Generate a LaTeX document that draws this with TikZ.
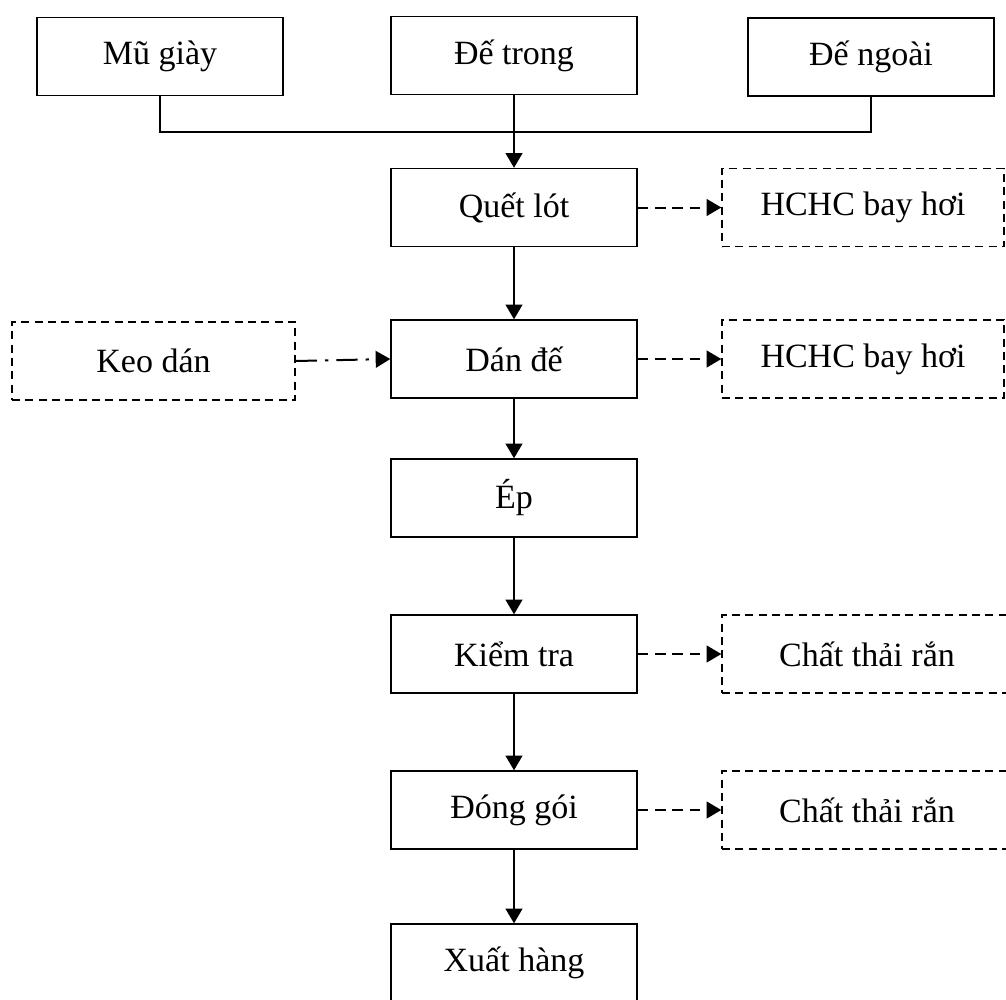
\documentclass[tikz,border=0pt]{standalone}
\usepackage{fontspec}
\setmainfont{Liberation Serif}
\usetikzlibrary{arrows.meta}
\tikzset{
  box/.style={draw, line width=1pt, inner sep=0pt, minimum width=184.5pt, minimum height=58.5pt,
    font=\fontsize{25.5}{30}\selectfont},
  dbox/.style={box, dash pattern=on 6pt off 4pt},
  conn/.style={line width=1.5pt},
  arr/.style={conn, -{Triangle[length=11pt,width=12.5pt]}},
  darr/.style={arr, dash pattern=on 8pt off 5pt},
  ddarr/.style={arr, dash pattern=on 16pt off 6pt on 2.5pt off 6pt},
}
\begin{document}
\begin{tikzpicture}[x=0.75pt,y=-0.75pt]
\useasboundingbox (0,0) rectangle (1006,999);
\clip (0,0) rectangle (1006,999);
\node[box] (mu) at (160,56.5) {Mũ giày};
\node[box] (detrong) at (514,55.5) {Đế trong};
\node[box] (dengoai) at (871,57) {Đế ngoài};
\node[box] (quet) at (514,207.5) {Quết lót};
\node[dbox, minimum width=211.5pt] (hchc1) at (863,207.5) {HCHC bay hơi};
\node[dbox, minimum width=212.25pt] (keo) at (153.5,361) {Keo dán};
\node[box] (dan) at (514,359) {Dán đế};
\node[dbox, minimum width=211.5pt] (hchc2) at (863,359) {HCHC bay hơi};
\node[box] (ep) at (514,498) {Ép};
\node[box] (kiem) at (514,654) {Kiểm tra};
\node[dbox, minimum width=217.5pt] (ctr1) at (867,654) {Chất thải rắn};
\node[box] (dong) at (514,810) {Đóng gói};
\node[dbox, minimum width=217.5pt] (ctr2) at (867,810) {Chất thải rắn};
\node[box] (xuat) at (514,963) {Xuất hàng};
\coordinate (jl) at (mu.south |- 0,132);
\coordinate (jr) at (dengoai.south |- 0,132);
\draw[conn] (mu.south) -- (jl) -- (jr) -- (dengoai.south);
\draw[arr] (detrong.south) -- (quet.north);
\draw[arr] (quet.south) -- (dan.north);
\draw[arr] (dan.south) -- (ep.north);
\draw[arr] (ep.south) -- (kiem.north);
\draw[arr] (kiem.south) -- (dong.north);
\draw[arr] (dong.south) -- (xuat.north);
\draw[darr] (quet.east) -- (hchc1.west);
\draw[darr] (dan.east) -- (hchc2.west);
\draw[darr] (kiem.east) -- (ctr1.west);
\draw[darr] (dong.east) -- (ctr2.west);
\draw[ddarr] (keo.east) -- (dan.west);
\end{tikzpicture}
\end{document}
